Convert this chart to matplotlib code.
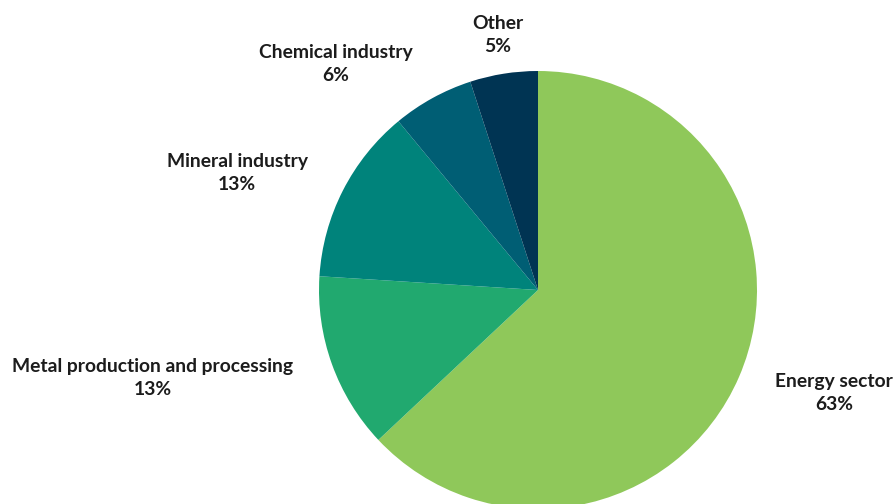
import matplotlib.pyplot as plt
import numpy as np

# data
categories = ["Energy sector", "Metal production and processing", "Mineral industry",
              "Chemical industry", "Other"]
shares = [63, 13, 13, 6, 5]
colors = ["#8fc85a", "#21a96f", "#00837b", "#005e74", "#003453"]

# label block centres in pixel coords (from top-left)
label_pos = [(834, 393), (153, 378), (237, 173), (336, 64), (498, 35)]

W, H = 896, 504
fig = plt.figure(figsize=(W / 100, H / 100), dpi=100)
ax = fig.add_axes([0, 0, 1, 1])

cx, cy, r = 538, H - 290, 219
ax.pie(shares, colors=colors, startangle=90, counterclock=False,
       center=(cx, cy), radius=r, frame=True,
       wedgeprops=dict(linewidth=0))
ax.set_xlim(0, W)
ax.set_ylim(0, H)
ax.set_aspect("equal")
ax.axis("off")

for name, val, (lx, ly) in zip(categories, shares, label_pos):
    ax.text(lx, H - ly, f"{name}\n{val}%", ha="center", va="center",
            fontsize=13.9, fontweight="bold", family="Lato",
            color="#1c1c1c", linespacing=1.45)

fig.savefig("out.png", dpi=100)
